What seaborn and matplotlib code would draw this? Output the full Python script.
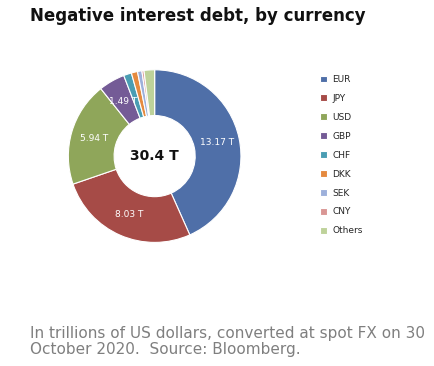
import matplotlib
matplotlib.use("Agg")
import matplotlib.pyplot as plt
import seaborn as sns

# values in trillions of USD
currencies = ["EUR", "JPY", "USD", "GBP", "CHF", "DKK", "SEK", "CNY", "Others"]
amounts = [13.17, 8.03, 5.94, 1.49, 0.45, 0.35, 0.25, 0.12, 0.60]
total_label = "30.4 T"
colors = ["#4F6FA8", "#A64B47", "#8FA65A", "#745B96", "#4A9DB3",
          "#E58A3F", "#9DB0DB", "#D99694", "#BED29A"]

sns.set_theme(style="white")
plt.rcParams["font.family"] = ["DejaVu Sans"]

fig = plt.figure(figsize=(4.35, 3.66), dpi=100)
ax = fig.add_axes([0.153, 0.333, 0.405, 0.481])

def fmt(pct):
    v = pct * sum(amounts) / 100
    return f"{v:.2f} T" if v > 1 else ""

wedges, texts, autotexts = ax.pie(
    amounts, colors=colors, startangle=90, counterclock=False,
    radius=1.0, wedgeprops=dict(width=0.53, edgecolor="white", linewidth=0.8),
    autopct=fmt, pctdistance=0.735,
    textprops=dict(color="white", fontsize=6.5))
ax.set_xlim(-1.02, 1.02)
ax.set_ylim(-1.02, 1.02)
ax.text(0, 0, total_label, ha="center", va="center", fontsize=10,
        fontweight="bold", color="#111111")

fig.legend(wedges, currencies, loc="upper left", bbox_to_anchor=(0.728, 0.805),
           frameon=False, fontsize=6.5, handlelength=0.75, handleheight=0.75,
           handletextpad=0.55, labelspacing=1.1, borderaxespad=0)

fig.text(0.07, 0.955, "Negative interest debt, by currency", fontsize=12,
         fontweight="bold", color="#111111", ha="left", va="center")
fig.text(0.07, 0.068,
         "In trillions of US dollars, converted at spot FX on 30\nOctober 2020.  Source: Bloomberg.",
         fontsize=11, color="#7f7f7f", ha="left", va="center", linespacing=1.1)

fig.savefig("out.png", dpi=100)
